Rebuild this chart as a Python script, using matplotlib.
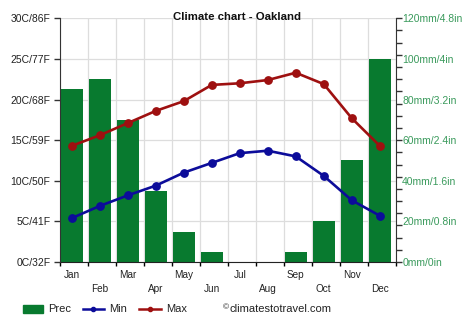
import matplotlib
matplotlib.use("Agg")
import matplotlib.pyplot as plt
import numpy as np
from matplotlib.lines import Line2D
from matplotlib.patches import Rectangle

plt.rcParams['font.family'] = ['Liberation Sans', 'DejaVu Sans']

months = ["Jan", "Feb", "Mar", "Apr", "May", "Jun",
          "Jul", "Aug", "Sep", "Oct", "Nov", "Dec"]
prec_mm = [85, 90, 70, 35, 15, 5, 0, 0, 5, 20, 50, 100]
temp_min = [5.4, 6.9, 8.2, 9.4, 11.0, 12.2, 13.4, 13.7, 13.0, 10.6, 7.6, 5.7]
temp_max = [14.3, 15.6, 17.1, 18.6, 19.8, 21.8, 22.0, 22.4, 23.3, 21.9, 17.7, 14.3]
left_labels = ["0C/32F", "5C/41F", "10C/50F", "15C/59F", "20C/68F", "25C/77F", "30C/86F"]
right_labels = ["0mm/0in", "20mm/0.8in", "40mm/1.6in", "60mm/2.4in",
                "80mm/3.2in", "100mm/4in", "120mm/4.8in"]

GREEN = '#087a2f'
BLUE = '#0c0c9a'
RED = '#9e1010'
LBL_GREEN = '#3a9a5c'

W, H = 474, 331
fig = plt.figure(figsize=(W / 100, H / 100), dpi=100)
rect = [60 / W, (H - 262) / H, (396 - 60) / W, (262 - 18.3) / H]

x = np.arange(12)
off = 0.42
bw = 0.79

# precipitation axes (background)
axp = fig.add_axes(rect)
axp.set_xlim(0, 12)
axp.set_ylim(0, 120)
axp.bar(x + off, prec_mm, width=bw, color=GREEN, zorder=2)
axp.set_axisbelow(True)
axp.set_xticks(np.arange(13))
axp.set_xticklabels([])
axp.tick_params(axis='x', length=3, width=1, direction='out', color='black')
axp.grid(True, axis='both', color='#dddddd', linewidth=0.9)
axp.yaxis.tick_right()
axp.set_yticks(np.arange(0, 121, 20))
axp.set_yticklabels(right_labels)
axp.set_yticks(np.arange(0, 121, 6), minor=True)
axp.yaxis.remove_overlapping_locs = False
axp.tick_params(axis='y', which='major', length=0, pad=4.5, labelsize=7.5,
                labelcolor=LBL_GREEN)
axp.tick_params(axis='y', which='minor', length=4, width=1, direction='out',
                color='#333333')
for s in ['top', 'left']:
    axp.spines[s].set_visible(False)
axp.spines['right'].set_color('#333333')
axp.spines['bottom'].set_color('#222222')

# temperature axes (foreground)
axt = fig.add_axes(rect)
axt.patch.set_visible(False)
axt.set_xlim(0, 12)
axt.set_ylim(0, 30)
axt.plot(x + off, temp_min, color=BLUE, linewidth=1.9, marker='o',
         markersize=5.3, zorder=3)
axt.plot(x + off, temp_max, color=RED, linewidth=1.9, marker='o',
         markersize=5.3, zorder=3)
axt.set_yticks(np.arange(0, 31, 5))
axt.set_yticklabels(left_labels)
axt.tick_params(axis='y', length=4, width=1, direction='out', pad=3,
                labelsize=7.5, color='#333333', labelcolor='#222222')
axt.set_xticks(x[::2] + off)
axt.set_xticklabels(months[::2])
axt.set_xticks(x[1::2] + off, minor=True)
axt.set_xticklabels(months[1::2], minor=True)
axt.tick_params(axis='x', which='major', length=0, pad=5.5, labelsize=7.2,
                labelcolor='#222222')
axt.tick_params(axis='x', which='minor', length=0, pad=15.8, labelsize=7.2,
                labelcolor='#222222')
for s in ['top', 'right', 'bottom']:
    axt.spines[s].set_visible(False)
axt.spines['left'].set_color('#333333')

# title
fig.text(237 / W, 1 - 20.5 / H, "Climate chart - Oakland", ha='center',
         va='baseline', fontsize=8.2, fontweight='bold', color='#111111')

# legend (manual)
ly = 1 - 309 / H
fig.patches.append(Rectangle((22.7 / W, 1 - 312.5 / H), 20.6 / W, 7.5 / H,
                             transform=fig.transFigure, color=GREEN))
fig.text(48.5 / W, ly, "Prec", va='center', ha='left', fontsize=8, color='#222222')
for x0, x1, c, lab in [(82.7, 104, BLUE, "Min"), (139.3, 160.7, RED, "Max")]:
    fig.lines.append(Line2D([x0 / W, x1 / W], [ly, ly], transform=fig.transFigure,
                            color=c, linewidth=1.8))
    fig.lines.append(Line2D([(x0 + x1) / 2 / W], [ly], transform=fig.transFigure,
                            color=c, marker='o', markersize=3))
    fig.text((x1 + 5) / W, ly, lab, va='center', ha='left', fontsize=8, color='#222222')
fig.text(222.5 / W, ly + 1.5 / H, "©", va='center', ha='left', fontsize=6, color='#222222')
fig.text(229 / W, ly, "climatestotravel.com", va='center', ha='left', fontsize=8,
         color='#222222')

fig.savefig("out.png", dpi=100)
